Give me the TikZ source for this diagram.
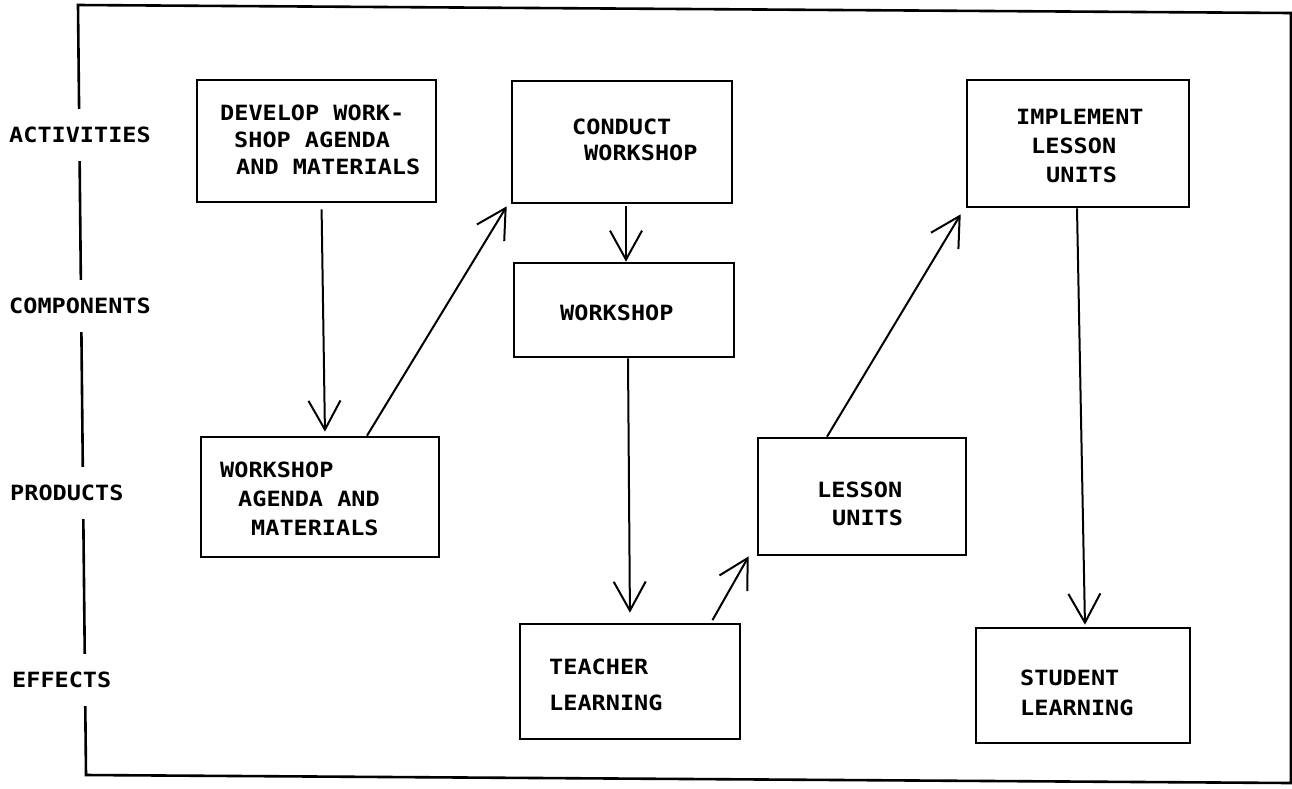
\documentclass[tikz,border=0pt]{standalone}
\usepackage{fontspec}
\usetikzlibrary{arrows.meta}
\newfontfamily\plotfont[FakeStretch=1.12]{DejaVu Sans Mono}
\newcommand{\plotsize}[1]{\plotfont\bfseries\fontsize{21}{#1}\selectfont}
\tikzset{
  box/.style={draw, line width=2.6pt, inner sep=0pt},
  txt/.style={anchor=north west, inner sep=0pt, align=left, font=\plotsize{28}},
  rowlabel/.style={anchor=west, inner xsep=0pt, inner ysep=18pt, fill=white, font=\plotsize{28}},
  arr/.style={line width=2pt, -{Straight Barb[length=29pt,width=32pt,line width=2pt]}},
}
\begin{document}
\begin{tikzpicture}[x=1pt,y=-1pt]
\useasboundingbox (0,0) rectangle (1292,788);

% outer frame
\draw[line width=2.6pt] (78,5) -- (1291,13) -- (1291,783) -- (86,775) -- cycle;

% row labels on the left edge
\node[rowlabel] (lact) at (9,135) {ACTIVITIES};
\node[rowlabel] (lcomp) at (9,306) {COMPONENTS};
\node[rowlabel] (lprod) at (10,493) {PRODUCTS};
\node[rowlabel] (leff) at (12,680) {EFFECTS};

% boxes
\node[box, minimum width=239pt, minimum height=122pt] (b1) at (316.5,141) {};
\node[box, minimum width=220pt, minimum height=122pt] (b2) at (622,142) {};
\node[box, minimum width=220pt, minimum height=94pt]  (b3) at (624,310) {};
\node[box, minimum width=222pt, minimum height=127pt] (b4) at (1078,143.5) {};
\node[box, minimum width=238pt, minimum height=120pt] (b5) at (320,497) {};
\node[box, minimum width=208pt, minimum height=117pt] (b6) at (862,496.5) {};
\node[box, minimum width=220pt, minimum height=115pt] (b7) at (630,681.5) {};
\node[box, minimum width=214pt, minimum height=115pt] (b8) at (1083,685.5) {};

% box texts
\node[txt, font=\plotsize{27}] (t1) at (220,105)
  {DEVELOP WORK-\\\hspace*{14pt}SHOP AGENDA\\\hspace*{16pt}AND MATERIALS};
\node[txt, font=\plotsize{26}] (t2) at (572,119)
  {CONDUCT\\\hspace*{12pt}WORKSHOP};
\node[txt] (t3) at (560,305) {WORKSHOP};
\node[txt, font=\plotsize{29}] (t4) at (1016,109)
  {IMPLEMENT\\\hspace*{15pt}LESSON\\\hspace*{30pt}UNITS};
\node[txt, font=\plotsize{29}] (t5) at (220,462)
  {WORKSHOP\\\hspace*{18pt}AGENDA AND\\\hspace*{31pt}MATERIALS};
\node[txt] (t6) at (817,482) {LESSON\\\hspace*{15pt}UNITS};
\node[txt, font=\plotsize{36}] (t7) at (549,659) {TEACHER\\LEARNING};
\node[txt, font=\plotsize{30}] (t8) at (1020,670) {STUDENT\\LEARNING};

% connectors
\draw[arr, shorten <=6pt, shorten >=4pt] ([xshift=5pt]b1.south) -- ([xshift=5pt]b5.north);
\draw[arr] ([xshift=47pt]b5.north) -- ([xshift=-4pt,yshift=-2pt]b2.south west);
\draw[arr, shorten <=2pt] ([xshift=4pt]b2.south) -- ([xshift=2pt]b3.north);
\draw[arr, shorten >=10pt] ([xshift=4pt]b3.south) -- (b7.north);
\draw[arr, shorten <=3pt] ([xshift=81pt]b7.north) -- ([xshift=-8pt]b6.south west);
\draw[arr] ([xshift=-35pt]b6.north) -- ([xshift=-5pt,yshift=-6pt]b4.south west);
\draw[arr, shorten >=2pt] ([xshift=-1pt]b4.south) -- ([xshift=2pt]b8.north);
\end{tikzpicture}
\end{document}
